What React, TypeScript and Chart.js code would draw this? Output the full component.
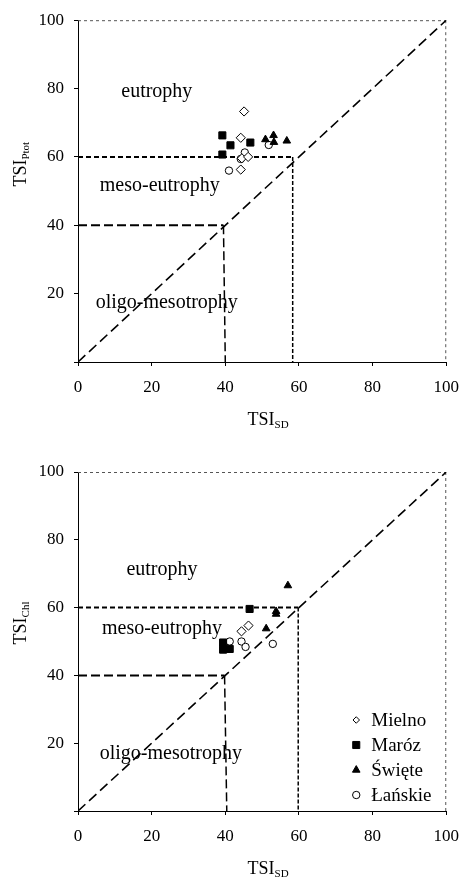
import React, { useEffect, useRef } from 'react';
import { Chart, registerables } from 'chart.js';

Chart.register(...registerables);

// ---------- data (TSI_SD on x) ----------
const lakes = ['Mielno', 'Maróz', 'Święte', 'Łańskie'];

// Top panel: TSI_SD vs TSI_Ptot
const ptotMielnoX = [45.1, 44.2, 44.5, 46.2, 44.2];
const ptotMielnoY = [73.3, 65.6, 59.6, 60.0, 56.3];
const ptotMarozX = [39.2, 41.4, 46.8, 39.2];
const ptotMarozY = [66.3, 63.4, 64.2, 60.7];
const ptotSwieteX = [50.9, 53.1, 56.7, 53.2];
const ptotSwieteY = [65.1, 66.3, 64.7, 64.3];
const ptotLanskieX = [51.8, 45.3, 44.2, 41.0];
const ptotLanskieY = [63.5, 61.3, 59.4, 56.0];

// Bottom panel: TSI_SD vs TSI_Chl
const chlMielnoX = [44.4, 46.3];
const chlMielnoY = [53.0, 54.7];
const chlMarozX = [46.6, 39.4, 39.4, 41.2];
const chlMarozY = [59.6, 49.7, 47.6, 47.8];
const chlSwieteX = [57.0, 53.8, 53.8, 51.1];
const chlSwieteY = [66.5, 58.9, 58.1, 53.8];
const chlLanskieX = [41.2, 44.4, 45.5, 52.9];
const chlLanskieY = [50.0, 50.0, 48.4, 49.3];

// boundary lines
const diagX = [0, 100];
const diagY = [0, 100];
const ptotUpperX = [0, 58.3, 58.3];
const ptotUpperY = [60, 60, 0];
const ptotLowerX = [0, 39.5, 40.0];
const ptotLowerY = [40, 40, 0];
const chlUpperX = [0, 59.8, 59.8];
const chlUpperY = [60, 60, 0];
const chlLowerX = [0, 39.8, 40.4];
const chlLowerY = [40, 40, 0];

const axisTicks = [0, 20, 40, 60, 80, 100];

// region labels [x, y]
const zoneNames = ['eutrophy', 'meso-eutrophy', 'oligo-mesotrophy'];
const ptotZoneX = [21.4, 22.2, 24.1];
const ptotZoneY = [79.2, 51.7, 17.4];
const chlZoneX = [22.8, 22.8, 25.2];
const chlZoneY = [71.2, 53.7, 17.0];

const zip = (xs: number[], ys: number[]) => xs.map((x, i) => ({ x, y: ys[i] }));

const SERIF = '"Liberation Serif", "Times New Roman", serif';

type PanelCfg = {
  series: { x: number[]; y: number[] }[];
  upper: { x: number[]; y: number[] };
  lower: { x: number[]; y: number[] };
  zoneX: number[];
  zoneY: number[];
  ySub: string;
  padTop: number;
  xAxisH: number;
  yTitleOffset: number;
  legend: boolean;
};

const markerStyles = [
  { pointStyle: 'rectRot', radius: 4.6, fill: '#ffffff', border: '#000', bw: 1 },
  { pointStyle: 'rect', radius: 5, fill: '#000', border: '#000', bw: 1 },
  { pointStyle: 'triangle', radius: 4.4, fill: '#000', border: '#000', bw: 1 },
  { pointStyle: 'circle', radius: 3.7, fill: '#ffffff', border: '#000', bw: 1 },
];

function drawMarker(ctx: CanvasRenderingContext2D, idx: number, x: number, y: number) {
  const m = markerStyles[idx];
  ctx.save();
  ctx.fillStyle = m.fill;
  ctx.strokeStyle = m.border;
  ctx.lineWidth = m.bw;
  ctx.beginPath();
  const r = m.radius;
  if (m.pointStyle === 'rectRot') {
    const s = r * Math.SQRT1_2;
    ctx.moveTo(x - s, y);
    ctx.lineTo(x, y + s);
    ctx.lineTo(x + s, y);
    ctx.lineTo(x, y - s);
    ctx.closePath();
  } else if (m.pointStyle === 'rect') {
    const s = r * Math.SQRT1_2;
    ctx.rect(x - s, y - s, 2 * s, 2 * s);
  } else if (m.pointStyle === 'triangle') {
    const h = r * 1.5;
    ctx.moveTo(x - r * 0.866, y + h / 3);
    ctx.lineTo(x + r * 0.866, y + h / 3);
    ctx.lineTo(x, y - (2 * h) / 3);
    ctx.closePath();
  } else {
    ctx.arc(x, y, r, 0, Math.PI * 2);
  }
  ctx.fill();
  ctx.stroke();
  ctx.restore();
}

function drawTSI(ctx: CanvasRenderingContext2D, sub: string, cx: number, cy: number) {
  ctx.font = `18px ${SERIF}`;
  const w1 = ctx.measureText('TSI').width;
  ctx.font = `11px ${SERIF}`;
  const w2 = ctx.measureText(sub).width;
  const start = cx - (w1 + w2) / 2;
  ctx.fillStyle = '#000';
  ctx.textBaseline = 'alphabetic';
  ctx.textAlign = 'left';
  ctx.font = `18px ${SERIF}`;
  ctx.fillText('TSI', start, cy + 6);
  ctx.font = `11px ${SERIF}`;
  ctx.fillText(sub, start + w1, cy + 9);
}

function makeConfig(p: PanelCfg): any {
  const lineDs = (data: any[], dash: number[], width: number) => ({
    type: 'line',
    data,
    borderColor: '#000',
    borderWidth: width,
    borderDash: dash,
    pointRadius: 0,
    fill: false,
    tension: 0,
    order: 10,
  });

  const scatterDs = p.series.map((s, i) => ({
    type: 'scatter',
    label: lakes[i],
    data: zip(s.x, s.y),
    pointStyle: markerStyles[i].pointStyle,
    pointRadius: markerStyles[i].radius,
    pointBackgroundColor: markerStyles[i].fill,
    pointBorderColor: markerStyles[i].border,
    pointBorderWidth: markerStyles[i].bw,
    order: 1,
  }));

  const overlay = {
    id: 'overlay',
    beforeDatasetsDraw(chart: any) {
      const { ctx, chartArea: a } = chart;
      ctx.save();
      ctx.strokeStyle = '#555';
      ctx.lineWidth = 1;
      ctx.setLineDash([3, 3]);
      ctx.beginPath();
      ctx.moveTo(a.left, a.top + 0.5);
      ctx.lineTo(a.right, a.top + 0.5);
      ctx.moveTo(a.right - 0.5, a.top);
      ctx.lineTo(a.right - 0.5, a.bottom);
      ctx.stroke();
      ctx.restore();
    },
    afterDatasetsDraw(chart: any) {
      const { ctx, chartArea: a, scales } = chart;
      ctx.save();
      // zone labels
      ctx.fillStyle = '#000';
      ctx.font = `20px ${SERIF}`;
      ctx.textAlign = 'center';
      ctx.textBaseline = 'middle';
      zoneNames.forEach((t, i) => {
        ctx.fillText(t, scales.x.getPixelForValue(p.zoneX[i]), scales.y.getPixelForValue(p.zoneY[i]));
      });
      // x title
      drawTSI(ctx, 'SD', (a.left + a.right) / 2 + 6, a.bottom + 57);
      // y title
      ctx.save();
      ctx.translate(20, a.top + p.yTitleOffset);
      ctx.rotate(-Math.PI / 2);
      drawTSI(ctx, p.ySub, 0, 0);
      ctx.restore();
      // legend
      if (p.legend) {
        const mx = a.right - 90;
        const tx = a.right - 75;
        const y0 = a.bottom - 91;
        lakes.forEach((name, i) => {
          const y = y0 + i * 25;
          drawMarker(ctx, i, mx, y);
          ctx.fillStyle = '#000';
          ctx.font = `19px ${SERIF}`;
          ctx.textAlign = 'left';
          ctx.textBaseline = 'middle';
          ctx.fillText(name, tx, y + 1);
        });
      }
      ctx.restore();
    },
  };

  const axisCommon = {
    type: 'linear',
    min: 0,
    max: 100,
    afterBuildTicks: (s: any) => {
      s.ticks = axisTicks.map((v) => ({ value: v }));
    },
    grid: { drawOnChartArea: false, drawTicks: true, tickLength: 4, color: '#000', lineWidth: 1 },
    border: { display: true, color: '#000', width: 1 },
  };

  return {
    type: 'scatter',
    data: {
      datasets: [
        ...scatterDs,
        lineDs(zip(diagX, diagY), [10, 5], 1.6),
        lineDs(zip(p.upper.x.slice(0, 2), p.upper.y.slice(0, 2)), [5, 3], 2),
        lineDs(zip(p.upper.x.slice(1), p.upper.y.slice(1)), [4, 2], 1.5),
        lineDs(zip(p.lower.x.slice(0, 2), p.lower.y.slice(0, 2)), [9, 4], 2),
        lineDs(zip(p.lower.x.slice(1), p.lower.y.slice(1)), [9, 4], 1.5),
      ],
    },
    options: {
      animation: false,
      responsive: false,
      maintainAspectRatio: false,
      events: [],
      layout: { padding: { top: p.padTop, right: 22, left: 0, bottom: 0 } },
      plugins: { legend: { display: false }, tooltip: { enabled: false } },
      scales: {
        x: {
          ...axisCommon,
          ticks: { color: '#000', font: { family: SERIF, size: 17 }, padding: 11, maxRotation: 0 },
          afterFit: (s: any) => {
            s.height = p.xAxisH;
          },
        },
        y: {
          ...axisCommon,
          ticks: {
            color: '#000',
            font: { family: SERIF, size: 17 },
            padding: 10,
            callback: (v: any) => (v === 0 ? '' : String(v)),
          },
          afterFit: (s: any) => {
            s.width = 78;
          },
        },
      },
    },
    plugins: [overlay],
  };
}

function Panel({ cfg, top }: { cfg: PanelCfg; top: number }) {
  const ref = useRef<HTMLCanvasElement | null>(null);
  useEffect(() => {
    if (!ref.current) return;
    const chart = new Chart(ref.current, makeConfig(cfg));
    return () => chart.destroy();
  }, []);
  return (
    <canvas
      ref={ref}
      width={470}
      height={443}
      style={{ position: 'absolute', left: 0, top, width: 470, height: 443 }}
    />
  );
}

const topCfg: PanelCfg = {
  series: [
    { x: ptotMielnoX, y: ptotMielnoY },
    { x: ptotMarozX, y: ptotMarozY },
    { x: ptotSwieteX, y: ptotSwieteY },
    { x: ptotLanskieX, y: ptotLanskieY },
  ],
  upper: { x: ptotUpperX, y: ptotUpperY },
  lower: { x: ptotLowerX, y: ptotLowerY },
  zoneX: ptotZoneX,
  zoneY: ptotZoneY,
  ySub: 'Ptot',
  padTop: 16,
  xAxisH: 443 - 362,
  yTitleOffset: 144,
  legend: false,
};

const bottomCfg: PanelCfg = {
  series: [
    { x: chlMielnoX, y: chlMielnoY },
    { x: chlMarozX, y: chlMarozY },
    { x: chlSwieteX, y: chlSwieteY },
    { x: chlLanskieX, y: chlLanskieY },
  ],
  upper: { x: chlUpperX, y: chlUpperY },
  lower: { x: chlLowerX, y: chlLowerY },
  zoneX: chlZoneX,
  zoneY: chlZoneY,
  ySub: 'Chl',
  padTop: 29,
  xAxisH: 443 - 368,
  yTitleOffset: 151,
  legend: true,
};

export default function App() {
  return (
    <div style={{ position: 'absolute', left: 0, top: 0, width: 470, height: 886, background: '#fff' }}>
      <Panel cfg={topCfg} top={0} />
      <Panel cfg={bottomCfg} top={443} />
    </div>
  );
}
